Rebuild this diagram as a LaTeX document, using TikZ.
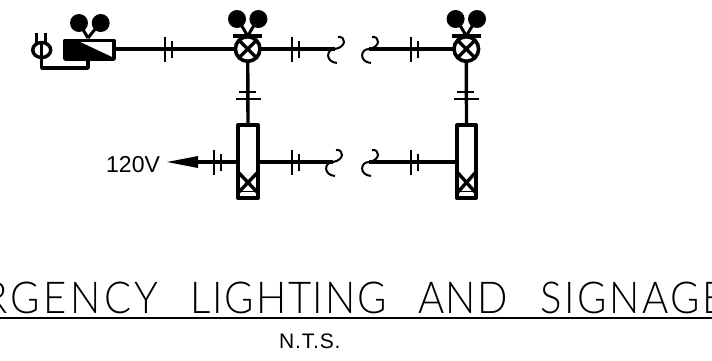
\documentclass[tikz,border=0pt]{standalone}
\usepackage{fontspec}
\setmainfont{Liberation Sans}
\newfontfamily\titlefont[LetterSpace=4,WordSpace=3,FakeStretch=0.91]{Lato Light}
\tikzset{
  x=1pt,y=-1pt,
  wire/.style={line width=3.4pt},
  tick/.style={line width=2pt},
  brk/.style={line width=2pt},
  sym/.style={line width=4pt,line join=round},
  lab/.style={inner sep=0pt,anchor=base west},
  pics/ticksH/.style={code={\draw[tick] (0,-12)--(0,13) (7,-8)--(7,9);}},
  pics/ticksV/.style={code={\draw[tick] (-9,0)--(8,0) (-12,7)--(13,7);}},
  pics/brkS/.style={code={\draw[brk] (3,-12) .. controls (11,-13) and (12,-2) .. (0,0) .. controls (-9,0) and (-10,13) .. (2,14);}},
  pics/lamp/.style={code={
    \draw[line width=3.6pt] (0,0) circle (12.3);
    \draw[line width=3.4pt] (-8.5,-8.5)--(8.5,8.5) (-8.5,8.5)--(8.5,-8.5);
    \draw[line width=3.4pt] (-14.5,-13)--(14.5,-13);
    \draw[line width=3pt] (0,-13)--(-10,-30) (0,-13)--(10,-30);
    \fill (-10.7,-30) circle (9) (10.7,-30) circle (9);
  }},
  pics/unit/.style n args={1}{code={
    \draw[sym] (0,0) rectangle (#1,73);
    \draw[line width=1pt] (0,66)--(#1,66);
    \draw[line width=3.4pt] (1,48)--(#1-1,67) (1,67)--(#1-1,48);
  }},
}
\begin{document}
\begin{tikzpicture}
\useasboundingbox (0,0) rectangle (712,361);
\clip (0,0) rectangle (712,361);
\fill[white] (0,0) rectangle (712,361);
% anchors
\coordinate (L1) at (247.7,49);
\coordinate (L2) at (466.3,49);
\coordinate (U1) at (248,125);
\coordinate (U2) at (466.5,125);
\coordinate (B1a) at (335,49);
\coordinate (B1b) at (369,49);
\coordinate (B2a) at (333,162);
\coordinate (B2b) at (369,162);
\coordinate (TX) at (115,49);
\coordinate (AT) at (167,162);
% wires
\draw[wire] (TX) -- (L1);
\draw[wire] (L1) -- (B1a);
\draw[wire] (B1b) -- (L2);
\draw[wire] (L1) -- (U1);
\draw[wire] (L2) -- (U2);
\draw[wire] (198,162) -- (238,162);
\draw[wire] (258,162) -- (B2a);
\draw[wire] (B2b) -- (457,162);
% ticks
\pic at (165,49.5) {ticksH};
\pic at (292,49.5) {ticksH};
\pic at (411,49.5) {ticksH};
\pic at (214,162) {ticksH};
\pic at (292,162) {ticksH};
\pic at (411,162) {ticksH};
\pic at (248,92) {ticksV};
\pic at (466.3,92) {ticksV};
% breaks
\pic at (B1a) {brkS};
\pic at (B1b) {brkS};
\pic at (B2a) {brkS};
\pic at (B2b) {brkS};
% lamps
\fill[white] (L1) circle (12);
\fill[white] (L2) circle (12);
\pic at (L1) {lamp};
\pic at (L2) {lamp};
% units
\fill[white] (238,125) rectangle (258,198);
\fill[white] (457,125) rectangle (476,198);
\pic at (238,125) {unit=20};
\pic at (457,125) {unit=19};
% arrow
\fill (AT) -- (198,156) -- (198,168) -- cycle;
% transformer and plug
\fill[white] (64,40) rectangle (115,60);
\draw[line width=3.4pt,line join=round] (65,40.5) rectangle (114,59);
\fill (65,40.5) -- (77,40.5) -- (112,57) -- (65,59) -- cycle;
\draw[line width=3pt] (88,38)--(79,23) (88,38)--(100,23);
\fill (79,23) circle (9) (100.7,23) circle (9);
\draw[line width=3.4pt] (41.7,50) ellipse (9 and 7.5);
\draw[line width=3pt] (36.7,33)--(36.7,43) (45.7,33)--(45.7,43);
\draw[line width=3.4pt,line join=round] (41.7,41)--(41.7,68)--(88,68)--(88,59);
% text
\node[lab,font=\fontsize{23}{23}\selectfont] (v) at (106,172) {120V};
\node[lab,font=\addfontfeatures{LetterSpace=4}\fontsize{21}{21}\selectfont] (nts) at (279,348) {N.T.S.};
\node[lab,font=\titlefont\fontsize{44}{44}\selectfont] (title) at (-17,313) {{\addfontfeatures{LetterSpace=8}RGENCY} \hspace{-6pt}LIGHTING \hspace{-6pt}{\addfontfeatures{LetterSpace=2.5}AND} \hspace{-5pt}{\addfontfeatures{LetterSpace=6}SIGNAGE}};
\draw[line width=2.4pt] (0,318)--(712,318);
\end{tikzpicture}
\end{document}
